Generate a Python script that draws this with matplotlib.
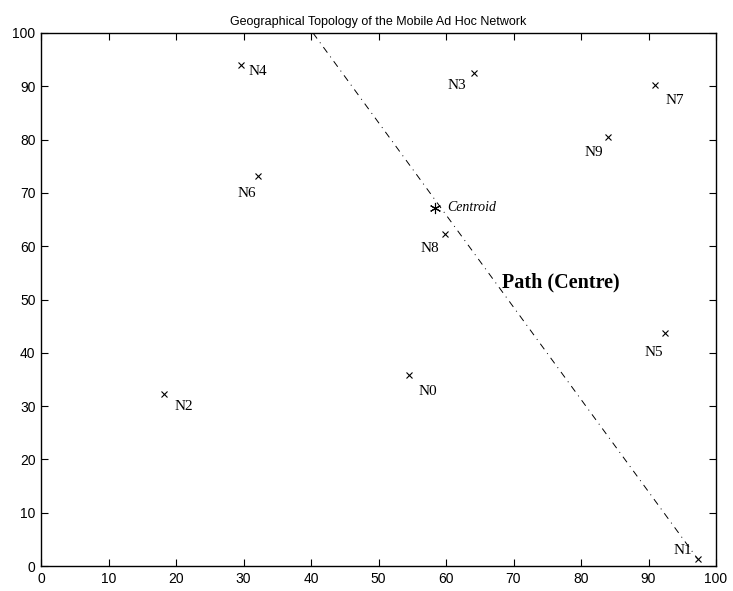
import matplotlib
matplotlib.use("Agg")
import matplotlib.pyplot as plt

node_names = ["N0", "N1", "N2", "N3", "N4", "N5", "N6", "N7", "N8", "N9"]
node_x = [54.5, 97.3, 18.2, 64.1, 29.6, 92.4, 32.1, 91.0, 59.9, 84.0]
node_y = [35.8, 1.3, 32.3, 92.5, 94.0, 43.7, 73.2, 90.2, 62.3, 80.5]
centroid_x = [58.4]
centroid_y = [67.2]
path_x = [40.3, 97.3]
path_y = [100.0, 1.3]
x_ticks = [0, 10, 20, 30, 40, 50, 60, 70, 80, 90, 100]
y_ticks = [0, 10, 20, 30, 40, 50, 60, 70, 80, 90, 100]

# label offsets in pixels (dx, dy, ha)
label_offsets = {
    "N0": (10, -16, "left"), "N1": (-6, 9, "right"), "N2": (11, -13, "left"),
    "N3": (-8, -13, "right"), "N4": (8, -7, "left"), "N5": (-2, -19, "right"),
    "N6": (-2, -18, "right"), "N7": (10, -15, "left"), "N8": (-6, -15, "right"),
    "N9": (-5, -16, "right"),
}

fig = plt.figure(figsize=(7.33, 5.91), dpi=100)
ax = fig.add_axes([41/733, 25/591, 675/733, 533/591])

ax.plot(path_x, path_y, linestyle=(0, (7, 5, 1, 5)), color="black", linewidth=0.7)
ax.plot(node_x, node_y, linestyle="none", marker="x", color="black",
        markersize=5, markeredgewidth=0.8)
ax.plot(centroid_x, centroid_y, linestyle="none", marker=(6, 2, 0), color="black",
        markersize=8, markeredgewidth=0.8)

serif = ["Liberation Serif", "DejaVu Serif"]
for name, x, y in zip(node_names, node_x, node_y):
    dx, dy, ha = label_offsets[name]
    ax.annotate(name, (x, y), xytext=(dx, dy), textcoords="offset pixels",
                ha=ha, va="center", fontsize=11, family=serif)

ax.annotate("Centroid", (centroid_x[0], centroid_y[0]), xytext=(12, 0),
            textcoords="offset pixels", ha="left", va="center",
            fontsize=10, style="italic", family=serif)
ax.text(77.0, 53.1, "Path (Centre)", ha="center", va="center", fontsize=14.5,
        fontweight="bold", family=serif)

ax.set_xlim(0, 100)
ax.set_ylim(0, 100)
ax.set_xticks(x_ticks)
ax.set_yticks(y_ticks)
ax.tick_params(direction="in", top=True, right=True, length=5, width=0.8,
               labelsize=10, pad=4)
for lab in ax.get_xticklabels() + ax.get_yticklabels():
    lab.set_family(["Liberation Sans", "DejaVu Sans"])
for s in ax.spines.values():
    s.set_linewidth(1.0)
ax.set_title("Geographical Topology of the Mobile Ad Hoc Network", fontsize=9,
             family=["Liberation Sans", "DejaVu Sans"], pad=6)

fig.savefig("out.png", dpi=100)
